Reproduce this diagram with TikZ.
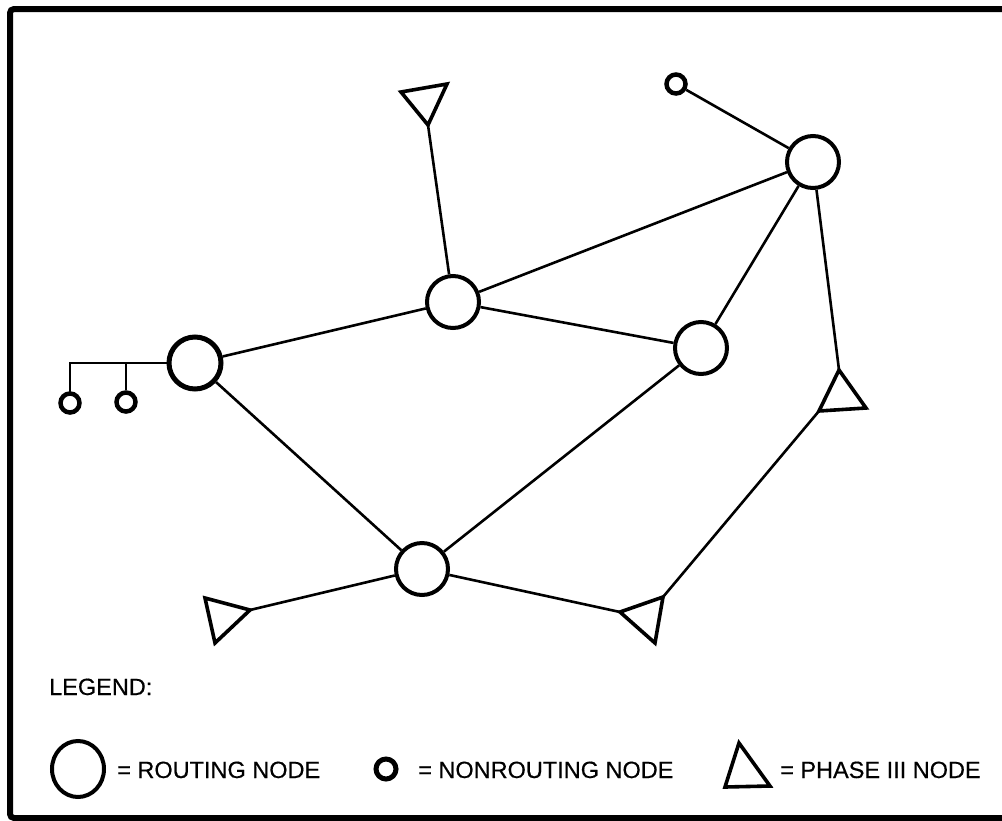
\documentclass[tikz,border=0pt]{standalone}
\usepackage{fontspec}
\setmainfont{Liberation Sans}
\newfontfamily\medfont[BoldFont={Liberation Sans},BoldFeatures={FakeBold=0.4}]{Liberation Sans}
\begin{document}
\begin{tikzpicture}[x=1pt,y=-1pt,
  rnode/.style={circle,draw,line width=4pt,minimum size=52pt,inner sep=0pt},
  nnode/.style={circle,draw,line width=4.5pt,minimum size=19pt,inner sep=0pt},
  link/.style={line width=2.6pt},
  tri/.style={line width=3.6pt,line join=miter},
  frame/.style={line width=6pt,rounded corners=4pt},
  lbl/.style={font=\fontsize{23.5}{28}\medfont\bfseries,inner sep=0pt,anchor=base west}]
\clip (0,0) rectangle (1002,820);
\fill[white] (0,0) rectangle (1002,820);
% frame
\draw[frame] (1015,9) -- (10,9) -- (10,818) -- (1015,818);

% routing nodes
\node[rnode,line width=5pt] (r1) at (195,363) {};
\node[rnode] (r2) at (453,302) {};
\node[rnode] (r3) at (701,348) {};
\node[rnode] (r4) at (813,162) {};
\node[rnode] (r5) at (422,569) {};

% nonrouting nodes
\node[nnode] (n1) at (70,403) {};
\node[nnode] (n2) at (126,402) {};
\node[nnode] (n3) at (676,84) {};

% phase III triangles (vertices)
\coordinate (t1a) at (401,92);
\coordinate (t1b) at (447,84);
\coordinate (t1c) at (428,125);
\coordinate (t2a) at (839,370);
\coordinate (t2b) at (819,411);
\coordinate (t2c) at (866,408);
\coordinate (t3a) at (205,598);
\coordinate (t3b) at (250,610);
\coordinate (t3c) at (215,643);
\coordinate (t4a) at (620,612);
\coordinate (t4b) at (663,597);
\coordinate (t4c) at (655,643);
\draw[tri] (t1a) -- (t1b) -- (t1c) -- cycle;
\draw[tri] (t2a) -- (t2c) -- (t2b) -- cycle;
\draw[tri] (t3a) -- (t3b) -- (t3c) -- cycle;
\draw[tri] (t4a) -- (t4b) -- (t4c) -- cycle;

% bus of nonrouting nodes
\coordinate (b1) at (70,363);
\coordinate (b2) at (126,363);
\draw[link,line cap=round] (n1.north) -- (b1) -- (r1.west);
\draw[link] (n2.north) -- (b2);

% links
\draw[link] (r1) -- (r2);
\draw[link] (r1) -- (r5);
\draw[link] (r2) -- (r4);
\draw[link] (r2) -- (r3);
\draw[link] (r3) -- (r4);
\draw[link] (r3) -- (r5);
\draw[link] (r4) -- (n3);
\draw[link] (r4) -- (t2a);
\draw[link] (r2) -- (t1c);
\draw[link] (r5) -- (t3b);
\draw[link] (r5) -- (t4a);
\draw[link] (t4b) -- (t2b);

% legend
\node[lbl] (leg) at (49,695) {LEGEND:};
\draw[line width=4pt] (78,769) ellipse [x radius=26, y radius=28];
\node[lbl] (l1) at (117,778) {= ROUTING NODE};
\node[nnode,line width=5pt,minimum size=20pt] (ln) at (386,769) {};
\node[lbl] (l2) at (418,778) {= NONROUTING NODE};
\coordinate (lta) at (739,743);
\coordinate (ltb) at (725,787);
\coordinate (ltc) at (770,786);
\draw[tri] (lta) -- (ltc) -- (ltb) -- cycle;
\node[lbl] (l3) at (780,778) {= PHASE III NODE};
\end{tikzpicture}
\end{document}
